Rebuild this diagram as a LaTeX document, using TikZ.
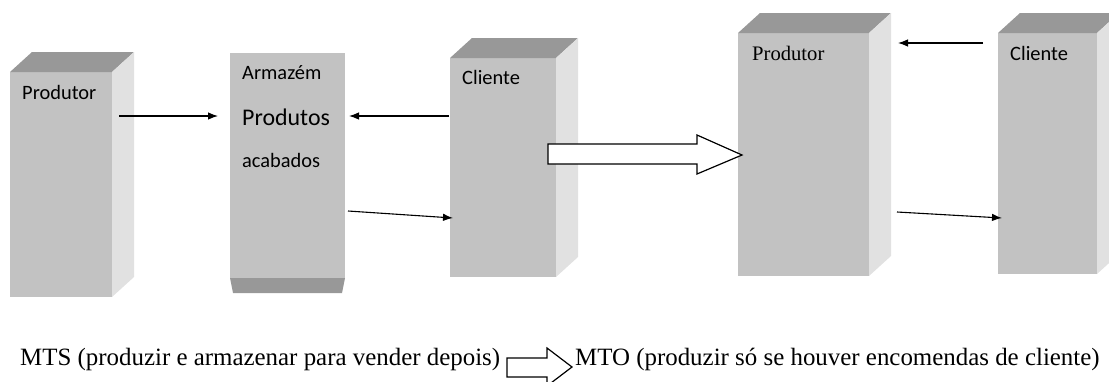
\documentclass[tikz,border=0pt]{standalone}
\usepackage{fontspec}
\setmainfont{Liberation Serif}
\newfontfamily\calibri{Carlito}
\usetikzlibrary{calc,arrows.meta}

\definecolor{faceFront}{HTML}{C2C2C2}
\definecolor{faceTop}{HTML}{989898}
\definecolor{faceSide}{HTML}{E1E1E1}

% top and right faces of an extruded box whose front face is node #1
\newcommand\boxfaces[1]{%
  \fill[faceTop] (#1.north west) -- ++(22,-20) -- ($(#1.north east)+(22,-20)$) -- (#1.north east) -- cycle;
  \fill[faceSide] (#1.north east) -- ++(22,-20) -- ($(#1.south east)+(22,-20)$) -- (#1.south east) -- cycle;
}

\begin{document}
\begin{tikzpicture}[x=1bp,y=-1bp,
  front/.style={fill=faceFront, draw=none, inner sep=0pt, outer sep=0pt, anchor=north west},
  sanslbl/.style={inner sep=0pt, anchor=base west, font=\calibri\fontsize{20.5}{24}\selectfont},
  seriflbl/.style={inner sep=0pt, anchor=base west, font=\fontsize{20.7}{24}\selectfont},
  caption/.style={inner sep=0pt, anchor=base west, font=\fontsize{25}{30}\selectfont},
  link/.style={line width=1.1bp, -{Latex[length=10bp,width=7.5bp]}},
  hollow/.style={fill=white, draw=black, line width=1.2bp, line join=miter}]

\clip (0,0) rectangle (1109,381);
\useasboundingbox (0,0) rectangle (1109,381);

% ---- make-to-stock chain ----
\node[front, minimum width=102bp, minimum height=225bp] (prodL) at (10,72) {};
\boxfaces{prodL}

\node[front, minimum width=115bp, minimum height=225bp] (arm) at (230,53) {};
\fill[faceTop] (arm.south west) -- (arm.south east) -- ++(-3,15) -- ($(arm.south west)+(3,15)$) -- cycle;

\node[front, minimum width=106bp, minimum height=219bp] (cliM) at (450,58) {};
\boxfaces{cliM}

% ---- make-to-order chain ----
\node[front, minimum width=131bp, minimum height=243bp] (prodR) at (738,33) {};
\boxfaces{prodR}

\node[front, minimum width=99bp, minimum height=241bp] (cliR) at (998,33) {};
\boxfaces{cliR}

% ---- labels ----
\node[sanslbl] (tProdL) at (22,99) {Produtor};
\node[sanslbl] (tArm) at (242,79) {Armazém};
\node[sanslbl, font=\calibri\fontsize{24}{28}\selectfont] (tProd) at (242,125) {Produtos};
\node[sanslbl] (tAcab) at (242,167) {acabados};
\node[sanslbl] (tCliM) at (462,84) {Cliente};
\node[seriflbl] (tProdR) at (752,60) {Produtor};
\node[sanslbl] (tCliR) at (1010,60) {Cliente};

% ---- flow end points ----
\coordinate (a1s) at (119,116);  \coordinate (a1e) at (218,116);
\coordinate (a2s) at (449,116);  \coordinate (a2e) at (349,116);
\coordinate (a3s) at (348,211);  \coordinate (a3e) at (453,218);
\coordinate (a4s) at (983,43);   \coordinate (a4e) at (898,43);
\coordinate (a5s) at (897,212);  \coordinate (a5e) at (1002,218);

\draw[link] (a1s) -- (a1e);
\draw[link] (a2s) -- (a2e);
\draw[link] (a3s) -- (a3e);
\draw[link] (a4s) -- (a4e);
\draw[link] (a5s) -- (a5e);

% ---- block arrow from one system to the other ----
\draw[hollow] (548,144) -- (697,144) -- (697,135) -- (742,155) -- (697,174) -- (697,164) -- (548,164) -- cycle;

% ---- caption ----
\node[caption] (mts) at (20,365) {MTS (produzir e armazenar para vender depois)};
\draw[hollow] (507,358) -- (547,358) -- (547,348) -- (572,367) -- (547,386) -- (547,377) -- (507,377) -- cycle;
\node[caption] (mto) at (575,365) {MTO (produzir só se houver encomendas de cliente)};

\end{tikzpicture}
\end{document}
